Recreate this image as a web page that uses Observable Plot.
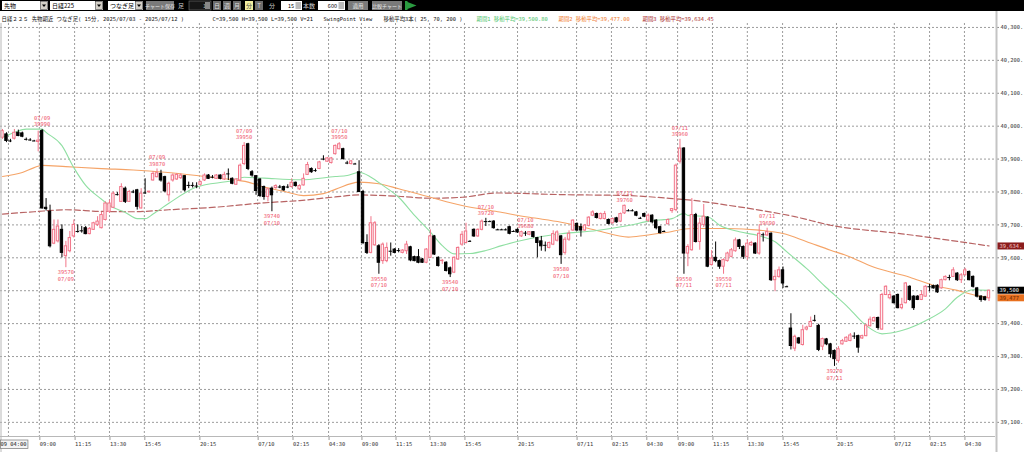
<!DOCTYPE html>
<html><head><meta charset="utf-8">
<script src="https://cdn.jsdelivr.net/npm/d3@7"></script>
<script src="https://cdn.jsdelivr.net/npm/@observablehq/plot@0.6"></script>
<style>
html,body{margin:0;padding:0;background:#fff;width:1024px;height:452px;overflow:hidden;}
svg{display:block}
</style></head><body>
<svg id="bar" width="1024" height="11" font-family="'Noto Sans CJK JP',sans-serif" font-size="6">
<rect width="1024" height="11" fill="#000"/>
<rect x="2" y="1" width="46" height="9" fill="#fff"/><text x="4" y="8" fill="#000">先物</text>
<rect x="40.5" y="1.5" width="7" height="8" fill="#d4d0c8" stroke="#404040" stroke-width="0.6"/><path d="M42 4.5h4l-2 2.5z" fill="#000"/>
<rect x="50" y="1" width="53" height="9" fill="#fff"/><text x="52" y="8" fill="#000">日経225</text>
<rect x="95.5" y="1.5" width="7" height="8" fill="#d4d0c8" stroke="#404040" stroke-width="0.6"/><path d="M97 4.5h4l-2 2.5z" fill="#000"/>
<rect x="108" y="1" width="35" height="9" fill="#fff"/><text x="110" y="8" fill="#000">つなぎ足</text>
<rect x="135.5" y="1.5" width="7" height="8" fill="#d4d0c8" stroke="#404040" stroke-width="0.6"/><path d="M137 4.5h4l-2 2.5z" fill="#000"/>
<rect x="146" y="1" width="28" height="9" fill="#7a7a7a"/><text x="160" y="8" fill="#e8e8e8" text-anchor="middle" font-size="5">チャート保存</text>
<text x="178" y="8" fill="#cfcfcf">足</text>
<rect x="189" y="1" width="22" height="9" fill="#161616" stroke="#777" stroke-width="0.6"/><text x="203" y="8" fill="#aaa" font-size="5.5">1</text><rect x="205" y="2" width="5" height="7" fill="#888"/>
<rect x="213" y="1" width="8" height="9" fill="#6c6c6c"/><text x="217" y="8" text-anchor="middle" fill="#ddd">日</text>
<rect x="223" y="1" width="8" height="9" fill="#6c6c6c"/><text x="227" y="8" text-anchor="middle" fill="#ddd">週</text>
<rect x="233" y="1" width="8" height="9" fill="#6c6c6c"/><text x="237" y="8" text-anchor="middle" fill="#ddd">月</text>
<rect x="245" y="1" width="8" height="9" fill="#f2eea0"/><text x="249" y="8" text-anchor="middle" fill="#444">分</text>
<rect x="255" y="1" width="8" height="9" fill="#6c6c6c"/><text x="259" y="8" text-anchor="middle" fill="#ddd">T</text>
<text x="269" y="8" fill="#cfcfcf">分</text>
<rect x="281" y="1" width="21" height="9" fill="#fff"/><text x="294" y="8" text-anchor="end" fill="#000" font-size="5.5">15</text><rect x="295.5" y="2" width="5.5" height="7" fill="#bbb"/>
<text x="303" y="8" fill="#cfcfcf">本数</text>
<rect x="318" y="1" width="27" height="9" fill="#fff"/><text x="337" y="8" text-anchor="end" fill="#000" font-size="5.5">600</text><rect x="338.5" y="2" width="5.5" height="7" fill="#bbb"/>
<rect x="348" y="1" width="20" height="9" fill="#7a7a7a"/><text x="358" y="8" text-anchor="middle" fill="#e8e8e8" font-size="5.5">適用</text>
<rect x="372" y="1" width="30" height="9" fill="#7a7a7a"/><text x="387" y="8" text-anchor="middle" fill="#e8e8e8" font-size="5">比較チャート</text>
<path d="M405 1h2.5v9h-2.5z M407.5 2l9 3.5-9 3.5z" fill="#2a9a40"/>
</svg>
<div id="chart"></div>
<script>
// ---- data ----
// candles [open, high, low, close], 15-minute bars
const ohlc = [
[39965,39990,39960,39985],[39975,39980,39950,39955],[39955,39960,39950,39955],[39962,39990,39958,39980],[39980,39988,39968,39970],
[39978,39982,39965,39968],[39960,39964,39955,39960],[39958,39962,39954,39958],[39955,39957,39953,39955],[39952,39985,39922,39956],
[39985,39990,39748,39750],[39752,39780,39742,39748],[39740,39760,39630,39635],[39643,39715,39640,39685],[39650,39715,39645,39695],
[39685,39700,39600,39615],[39605,39650,39570,39635],[39620,39680,39615,39660],[39665,39715,39660,39700],[39680,39700,39675,39680],
[39682,39695,39675,39682],[39690,39695,39670,39672],[39672,39692,39670,39688],[39685,39708,39683,39705],[39700,39725,39695,39710],
[39690,39738,39688,39730],[39715,39770,39712,39765],[39740,39775,39735,39765],[39752,39800,39750,39795],[39792,39798,39788,39792],
[39770,39825,39768,39815],[39810,39815,39765,39770],[39770,39805,39768,39800],[39800,39805,39795,39800],[39805,39808,39745,39755],
[39750,39810,39748,39795],[39797,39840,39793,39797],[39799,39802,39797,39801],[39835,39862,39833,39855],[39845,39870,39843,39857],
[39855,39866,39830,39835],[39845,39848,39798,39802],[39790,39830,39770,39825],[39835,39855,39830,39850],[39838,39856,39835,39852],
[39842,39855,39838,39850],[39848,39850,39800,39805],[39820,39830,39810,39820],[39820,39828,39812,39820],[39818,39828,39810,39818],
[39822,39833,39818,39830],[39835,39855,39832,39850],[39850,39853,39838,39840],[39845,39850,39840,39845],[39840,39853,39838,39850],
[39850,39852,39837,39840],[39838,39860,39835,39852],[39855,39870,39835,39855],[39840,39843,39822,39825],[39822,39840,39820,39838],
[39835,39885,39833,39880],[39885,39950,39880,39940],[39945,39948,39865,39870],[39860,39865,39845,39850],[39848,39850,39790,39803],
[39838,39840,39783,39788],[39815,39818,39775,39785],[39785,39812,39770,39808],[39810,39815,39740,39790],[39812,39822,39808,39818],
[39815,39820,39810,39815],[39815,39818,39802,39805],[39815,39822,39810,39815],[39815,39840,39812,39828],[39828,39830,39815,39818],
[39808,39822,39805,39818],[39820,39855,39818,39840],[39852,39890,39850,39882],[39870,39873,39857,39860],[39865,39870,39860,39865],
[39870,39893,39868,39890],[39900,39910,39895,39900],[39892,39905,39890,39902],[39888,39905,39885,39902],[39915,39943,39912,39940],
[39930,39950,39928,39945],[39930,39933,39897,39900],[39888,39893,39883,39888],[39885,39896,39882,39893],[39885,39887,39883,39885],
[39860,39895,39798,39800],[39800,39805,39640,39645],[39645,39670,39610,39615],[39615,39725,39612,39705],[39638,39710,39635,39705],
[39635,39640,39550,39585],[39590,39645,39580,39640],[39590,39645,39585,39630],[39620,39645,39605,39620],[39625,39628,39612,39615],
[39622,39628,39615,39622],[39615,39625,39612,39622],[39620,39650,39610,39640],[39632,39635,39588,39592],[39602,39605,39588,39590],
[39602,39625,39582,39585],[39595,39598,39583,39585],[39585,39628,39582,39625],[39600,39685,39598,39665],[39665,39668,39607,39610],
[39600,39603,39572,39575],[39590,39595,39580,39591],[39585,39588,39557,39560],[39568,39572,39540,39550],[39555,39603,39552,39600],
[39595,39633,39592,39630],[39640,39680,39635,39670],[39645,39705,39642,39680],[39650,39652,39648,39650],[39685,39688,39662,39665],
[39665,39688,39662,39685],[39685,39715,39682,39710],[39710,39720,39695,39710],[39710,39712,39708,39710],[39710,39713,39687,39690],
[39685,39687,39683,39685],[39685,39687,39683,39685],[39685,39688,39682,39685],[39693,39696,39670,39673],[39680,39682,39678,39680],
[39685,39688,39674,39677],[39665,39681,39662,39678],[39675,39680,39665,39675],[39670,39679,39667,39678],[39678,39679,39660,39663],
[39660,39662,39600,39645],[39650,39665,39620,39635],[39638,39648,39618,39638],[39630,39648,39627,39645],[39640,39682,39637,39672],
[39652,39682,39648,39677],[39665,39668,39580,39608],[39615,39662,39608,39655],[39655,39682,39650,39673],[39683,39716,39680,39713],
[39703,39706,39680,39683],[39693,39703,39663,39683],[39683,39701,39680,39698],[39697,39725,39694,39722],[39728,39743,39725,39738],
[39733,39736,39718,39721],[39718,39736,39715,39733],[39718,39741,39715,39733],[39715,39718,39700,39703],[39705,39721,39702,39718],
[39720,39723,39705,39708],[39710,39736,39707,39733],[39735,39760,39732,39758],[39743,39746,39740,39743],[39743,39746,39740,39743],
[39738,39741,39725,39728],[39720,39723,39717,39720],[39733,39736,39722,39725],[39713,39733,39708,39728],[39728,39731,39703,39708],
[39713,39716,39685,39690],[39693,39696,39672,39675],[39680,39682,39678,39680],[39702,39718,39700,39715],[39742,39750,39735,39748],
[39745,39885,39740,39880],[39892,39960,39885,39932],[39932,39935,39550,39613],[39613,39640,39573,39633],[39623,39780,39620,39730],
[39730,39735,39645,39648],[39648,39720,39623,39704],[39700,39762,39692,39725],[39722,39725,39570,39573],[39578,39622,39575,39598],
[39600,39648,39585,39590],[39590,39593,39565,39573],[39573,39597,39550,39593],[39590,39617,39587,39613],[39603,39628,39600,39623],
[39620,39660,39617,39653],[39653,39656,39625,39633],[39633,39636,39595,39603],[39603,39655,39593,39643],[39638,39650,39635,39645],
[39643,39646,39610,39613],[39613,39700,39608,39673],[39670,39675,39648,39670],[39668,39690,39665,39678],[39673,39676,39528,39532],
[39532,39562,39497,39542],[39542,39572,39538,39562],[39562,39572,39507,39522],[39512,39514,39510,39512],[39385,39430,39320,39332],
[39324,39365,39315,39360],[39355,39358,39337,39340],[39335,39395,39332,39380],[39382,39392,39378,39388],[39390,39420,39388,39405],
[39410,39425,39405,39410],[39393,39398,39315,39320],[39330,39356,39318,39353],[39352,39355,39333,39337],[39337,39340,39295,39307],
[39317,39320,39270,39292],[39287,39330,39280,39322],[39337,39352,39335,39347],[39345,39360,39343,39357],[39347,39370,39345,39364],
[39362,39372,39352,39362],[39362,39365,39310,39327],[39355,39365,39352,39362],[39362,39398,39360,39394],[39392,39420,39390,39412],
[39407,39420,39405,39417],[39417,39420,39380,39387],[39382,39492,39380,39487],[39487,39515,39485,39512],[39477,39497,39472,39487],
[39482,39485,39460,39462],[39487,39490,39445,39447],[39447,39477,39442,39457],[39462,39525,39460,39522],[39512,39515,39468,39472],
[39482,39485,39440,39447],[39482,39485,39470,39472],[39472,39500,39470,39487],[39482,39515,39480,39512],[39512,39519,39497,39512],
[39514,39517,39505,39507],[39515,39518,39492,39495],[39507,39535,39505,39532],[39532,39545,39530,39542],[39540,39547,39530,39540],
[39542,39570,39540,39562],[39552,39555,39528,39532],[39532,39552,39522,39547],[39547,39568,39545,39562],[39557,39560,39530,39532],
[39542,39545,39508,39512],[39507,39510,39478,39482],[39482,39485,39465,39472],[39480,39483,39468,39472],[39477,39502,39467,39500]
];

// moving averages (bar index, value)
const ma25Idx = [0,3,6,10,11,15,18,21,25,27,31,34,36,38,42,49,58,61,66,75,84,87,90,93,96,100,104,108,111,114,118,122,126,133,141,150,158,164,167,169,172,173,178,181,186,191,195,198,203,208,213,218,222,227,233,238,241,245,249];
const ma25Val = [39966,39981,39991,39991,39981,39941,39874,39820,39778,39759,39738,39719,39719,39733,39766,39815,39835,39845,39842,39837,39847,39850,39860,39845,39820,39784,39729,39678,39637,39612,39613,39622,39637,39658,39673,39683,39698,39713,39716,39719,39735,39729,39725,39699,39679,39667,39649,39618,39567,39509,39455,39394,39369,39379,39409,39445,39480,39503,39501];
const ma70Idx = [0,5,8,10,16,25,33,41,49,56,62,66,71,76,81,84,90,95,100,108,116,125,133,141,150,158,162,167,174,183,191,197,203,209,213,220,229,235,241,246,249];
const ma70Val = [39847,39859,39874,39881,39877,39871,39867,39860,39850,39840,39830,39815,39802,39789,39795,39808,39830,39825,39810,39784,39759,39740,39723,39708,39683,39663,39668,39676,39689,39689,39684,39674,39649,39623,39607,39571,39541,39516,39501,39485,39479];
const ma200Idx = [0,8,16,25,33,42,54,66,75,84,90,100,108,116,125,141,158,167,174,183,191,200,209,227,249];
const ma200Val = [39733,39740,39746,39741,39740,39746,39754,39767,39774,39785,39791,39787,39781,39784,39797,39792,39789,39782,39775,39760,39745,39725,39699,39673,39636];

// latest values shown in the header and right-edge tags
const maNow = [39500.80, 39477.00, 39634.45];
const lastClose = 39500;

// swing points
const swingIdx   = [10,39,61,85,122,132,157,171,193, 16,68,95,113,141,172,182,210];
const swingKind  = ["H","H","H","H","H","H","H","H","H", "L","L","L","L","L","L","L","L"];
const swingPrice = [39990,39870,39950,39950,39720,39680,39760,39960,39690, 39570,39740,39550,39540,39580,39550,39550,39270];
const swingDate  = ["07/09","07/09","07/09","07/10","07/10","07/10","07/11","07/11","07/11", "07/09","07/10","07/10","07/10","07/10","07/11","07/11","07/11"];

// axis ticks
const tickIdx = [1.5,9.3,18.2,27,35.8,49.7,64.4,73.2,82.3,90.6,99.2,107.8,116.6,130,144.9,153.7,162.5,170.4,179.2,188,196.9,210.5,225.1,234,242.8];
const tickLab = ["07/09 04:00","09:00","11:15","13:30","15:45","20:15","07/10","02:15","04:30","09:00","11:15","13:30","15:45","20:15","07/11","02:15","04:30","09:00","11:15","13:30","15:45","20:15","07/12","02:15","04:30"];
const yTicks = [39100,39200,39300,39400,39500,39600,39700,39800,39900,40000,40100,40200,40300];

// header text
const titleMain = "日経２２５ 先物期近 つなぎ足( 15分, 2025/07/03 - 2025/07/12 )";
const titleOHLC = "C=39,500 H=39,500 L=39,500 V=21";
const titleView = "SwingPoint View";
const titleMA = "移動平均3本( 25, 70, 200 )";

// ---- chart ----
const fmt = d3.format(",");
const fmt2 = d3.format(",.2f");
const green = "#8fdfa2", orange = "#f5a468", dred = "#b86464";
const upStroke = "#f27589", upFill = "#fff0f3", labCol = "#ef566c";
const mono = "'DejaVu Sans Mono','Noto Sans CJK JP',monospace";

const bars = ohlc.map(([o,h,l,c], i) => ({i, o, h, l, c}));
const isUp = d => d.c > d.o;
const series = (idx, val) => idx.map((x, k) => ({x, y: val[k]}));
const labelOf = new Map(tickIdx.map((t, k) => [t, tickLab[k]]));
const swings = swingIdx.map((i, k) => ({i, kind: swingKind[k], p: swingPrice[k], date: swingDate[k]}));
const highs = swings.filter(s => s.kind === "H");
const lows = swings.filter(s => s.kind === "L");
// the close tag covers the axis label at the same level
const yLabelTicks = yTicks.filter(t => t !== lastClose);

const header = [
  {t: titleMain, x: 1, c: "#111"},
  {t: titleOHLC, x: 212, c: "#111"},
  {t: titleView, x: 323, c: "#111"},
  {t: titleMA, x: 383, c: "#111"},
  {t: "期間1 移動平均=" + fmt2(maNow[0]), x: 476, c: "#4cc46a"},
  {t: "期間2 移動平均=" + fmt2(maNow[1]), x: 558, c: "#ef7a2e"},
  {t: "期間3 移動平均=" + fmt2(maNow[2]), x: 642, c: "#a82c2c"}
];

const plot = Plot.plot({
  width: 1024, height: 441,
  marginTop: 12, marginRight: 29, marginBottom: 16, marginLeft: 0,
  style: {background: "#fff", fontFamily: mono, fontSize: "5.4px", color: "#333", overflow: "visible"},
  x: {type: "linear", domain: [-0.505, 250.64]},
  y: {domain: [39057, 40312]},
  marks: [
    Plot.gridY(yTicks, {stroke: "#9c9c9c", strokeOpacity: 1, strokeDasharray: "2,2"}),
    Plot.gridX(tickIdx, {stroke: "#9c9c9c", strokeOpacity: 1, strokeDasharray: "2,2"}),
    Plot.axisY(yTicks, {anchor: "right", tickSize: 3, stroke: "#888", text: null, label: null}),
    Plot.axisY(yLabelTicks, {anchor: "right", tickSize: 0, tickPadding: 5, fill: "#333", fontSize: 5.4,
      tickFormat: d => fmt(d) + ".", label: null}),
    Plot.axisX(tickIdx.slice(1), {anchor: "bottom", tickSize: 4, tickPadding: 2, stroke: "#999", fill: "#333",
      fontSize: 5.4, textAnchor: "start", dx: 0.5, tickFormat: d => labelOf.get(d), label: null}),
    Plot.line(series(ma200Idx, ma200Val), {x: "x", y: "y", stroke: dred, strokeWidth: 1.2, strokeDasharray: "6,3", curve: "monotone-x"}),
    Plot.line(series(ma70Idx, ma70Val), {x: "x", y: "y", stroke: orange, strokeWidth: 1.1, curve: "monotone-x"}),
    Plot.line(series(ma25Idx, ma25Val), {x: "x", y: "y", stroke: green, strokeWidth: 1.1, curve: "monotone-x"}),
    Plot.ruleX(bars, {x: "i", y1: "l", y2: "h", stroke: d => isUp(d) ? upStroke : "#000", strokeWidth: 1}),
    Plot.rect(bars.filter(d => d.o !== d.c), {x1: d => d.i - 0.3, x2: d => d.i + 0.3, y1: "o", y2: "c",
      fill: d => isUp(d) ? upFill : "#000", stroke: d => isUp(d) ? upStroke : "#000", strokeWidth: 1}),
    Plot.ruleY(bars.filter(d => d.o === d.c), {x1: d => d.i - 0.42, x2: d => d.i + 0.42, y: "o", stroke: "#000", strokeWidth: 1}),
    Plot.text(highs, {x: "i", y: "p", text: d => String(d.p), dy: -5, fill: labCol, fontSize: 5.4}),
    Plot.text(highs, {x: "i", y: "p", text: "date", dy: -11.5, fill: labCol, fontSize: 5.4}),
    Plot.text(lows, {x: "i", y: "p", text: d => String(d.p), dy: 5, fill: labCol, fontSize: 5.4}),
    Plot.text(lows, {x: "i", y: "p", text: "date", dy: 11.5, fill: labCol, fontSize: 5.4}),
    ...header.map(h => Plot.text([h], {frameAnchor: "top-left", text: "t", dx: h.x, dy: -6.5, fill: h.c,
      textAnchor: "start", fontSize: 5.4}))
  ]
});
document.getElementById("chart").append(plot);

// frame lines, first tick label box and right-edge value tags
const svg = d3.select(plot);
const xs = plot.scale("x"), ys = plot.scale("y");
const [xL, xR] = xs.range, [yB, yT] = ys.range;
svg.append("line").attr("x1", 1).attr("x2", 1).attr("y1", yT).attr("y2", 441).attr("stroke", "#b8b8b8");
svg.append("line").attr("x1", 0).attr("x2", xR).attr("y1", yB + 0.5).attr("y2", yB + 0.5).attr("stroke", "#b8b8b8");
svg.append("line").attr("x1", xR + 1.5).attr("x2", xR + 1.5).attr("y1", 0).attr("y2", 441).attr("stroke", "#c4c4c4").attr("stroke-width", 2);

const fx = xs.apply(tickIdx[0]);
svg.append("rect").attr("x", 0.5).attr("y", yB + 4).attr("width", fx + 19.5).attr("height", 8.5)
  .attr("fill", "#f4f4f4").attr("stroke", "#777").attr("stroke-width", 0.7);
svg.append("text").attr("x", fx + 18.5).attr("y", yB + 10.3).attr("text-anchor", "end")
  .attr("font-family", mono).attr("font-size", 5.4).attr("fill", "#222").text(tickLab[0]);

const tags = [
  {v: maNow[2], t: fmt(Math.round(maNow[2])) + ".", bg: "#8b1c1c", fg: "#f6caca"},
  {v: lastClose, t: fmt(lastClose), bg: "#000", fg: "#fff"},
  {v: maNow[1], t: fmt(Math.round(maNow[1])), bg: "#e8701e", fg: "#6a2a08"}
];
for (const tg of tags) {
  const y = ys.apply(tg.v);
  svg.append("rect").attr("x", xR + 2.5).attr("y", y - 3.5).attr("width", 1024 - xR - 2.5).attr("height", 7).attr("fill", tg.bg);
  svg.append("text").attr("x", xR + 4.5).attr("y", y + 2).attr("text-anchor", "start").attr("font-family", mono)
    .attr("font-size", 5.4).attr("fill", tg.fg).text(tg.t);
}
</script>
</body></html>
